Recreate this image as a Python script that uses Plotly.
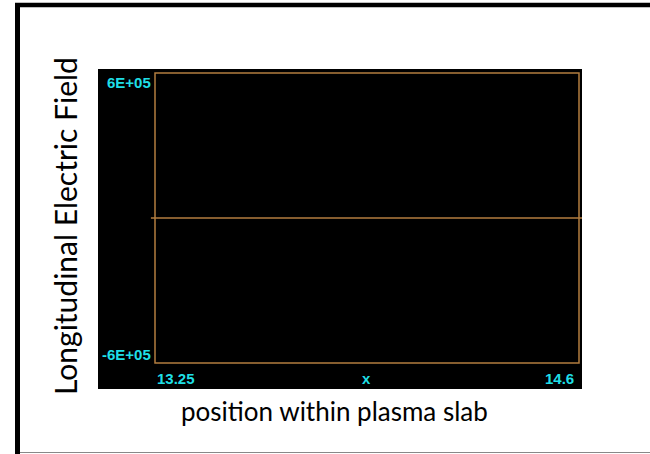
import plotly.graph_objects as go

# ---- data ----
x_pos = [13.237, 13.5, 13.75, 14.0, 14.25, 14.5, 14.61]
e_field = [0, 0, 0, 0, 0, 0, 0]
x_tick_labels = ["13.25", "x", "14.6"]
x_tick_vals = [13.25, 13.925, 14.6]
y_tick_labels = ["6E+05", "-6E+05"]
y_tick_vals = [6e5, -6e5]
x_title = "position within plasma slab"
y_title = "Longitudinal Electric Field"

W, H = 650, 454
ML, MR, MT, MB = 98, 68, 69, 65
PW, PH = W - ML - MR, H - MT - MB

def px(xp):
    return (xp - ML) / PW

def py(yp):
    return (H - MB - yp) / PH

# axis ranges chosen so that frame values map onto the frame
x_per_px = (x_tick_vals[2] - x_tick_vals[0]) / 424.0
y_per_px = (y_tick_vals[0] - y_tick_vals[1]) / 290.0
x_range = [x_tick_vals[0] - 57 * x_per_px, x_tick_vals[2] + 3 * x_per_px]
y_range = [y_tick_vals[1] - 26 * y_per_px, y_tick_vals[0] + 4 * y_per_px]

ORANGE = "#b37d3f"
CYAN = "#1fdfe6"
tick_font = dict(family="Liberation Sans", size=15, color=CYAN, weight="bold")
title_font_family = "Lato"

fig = go.Figure()
fig.add_trace(go.Scatter(x=x_pos, y=e_field, mode="lines",
                         line=dict(color=ORANGE, width=1.5),
                         hoverinfo="skip", showlegend=False))

shapes = [
    dict(type="rect", xref="x", yref="y", x0=x_tick_vals[0], x1=x_tick_vals[2],
         y0=y_tick_vals[1], y1=y_tick_vals[0], line=dict(color=ORANGE, width=1.5)),
    # outer frame lines
    dict(type="line", xref="paper", yref="paper", x0=px(15), x1=px(650),
         y0=py(5), y1=py(5), line=dict(color="black", width=4.5)),
    dict(type="line", xref="paper", yref="paper", x0=px(17.5), x1=px(17.5),
         y0=py(3), y1=py(454), line=dict(color="black", width=5)),
    dict(type="line", xref="paper", yref="paper", x0=px(20), x1=px(650),
         y0=py(452.5), y1=py(452.5), line=dict(color="#888888", width=1.2)),
]

annotations = [
    dict(text=y_tick_labels[0], xref="x", yref="y", x=x_tick_vals[0], y=y_tick_vals[0],
         xanchor="right", yanchor="top", xshift=-2, yshift=1, showarrow=False, font=tick_font),
    dict(text=y_tick_labels[1], xref="x", yref="y", x=x_tick_vals[0], y=y_tick_vals[1],
         xanchor="right", yanchor="bottom", xshift=-2, yshift=-2, showarrow=False, font=tick_font),
    dict(text=x_tick_labels[0], xref="x", yref="y", x=x_tick_vals[0], y=y_tick_vals[1],
         xanchor="left", yanchor="top", xshift=0, yshift=-5, showarrow=False, font=tick_font),
    dict(text=x_tick_labels[1], xref="x", yref="y", x=x_tick_vals[1], y=y_tick_vals[1],
         xanchor="center", yanchor="top", xshift=-1, yshift=-5, showarrow=False, font=tick_font),
    dict(text=x_tick_labels[2], xref="x", yref="y", x=x_tick_vals[2], y=y_tick_vals[1],
         xanchor="right", yanchor="top", xshift=-3, yshift=-5, showarrow=False, font=tick_font),
    dict(text=x_title, xref="paper", yref="paper", x=px(334), y=py(411),
         xanchor="center", yanchor="middle", showarrow=False,
         font=dict(family=title_font_family, size=26, color="black")),
    dict(text=y_title, xref="paper", yref="paper", x=px(65), y=py(226),
         xanchor="center", yanchor="middle", textangle=-90, showarrow=False,
         font=dict(family=title_font_family, size=30, color="black")),
]

fig.update_layout(
    width=W, height=H,
    margin=dict(l=ML, r=MR, t=MT, b=MB, pad=0),
    paper_bgcolor="white", plot_bgcolor="black",
    xaxis=dict(range=x_range, visible=False, fixedrange=True),
    yaxis=dict(range=y_range, visible=False, fixedrange=True),
    shapes=shapes, annotations=annotations, showlegend=False,
)

fig.write_html("out.html")
